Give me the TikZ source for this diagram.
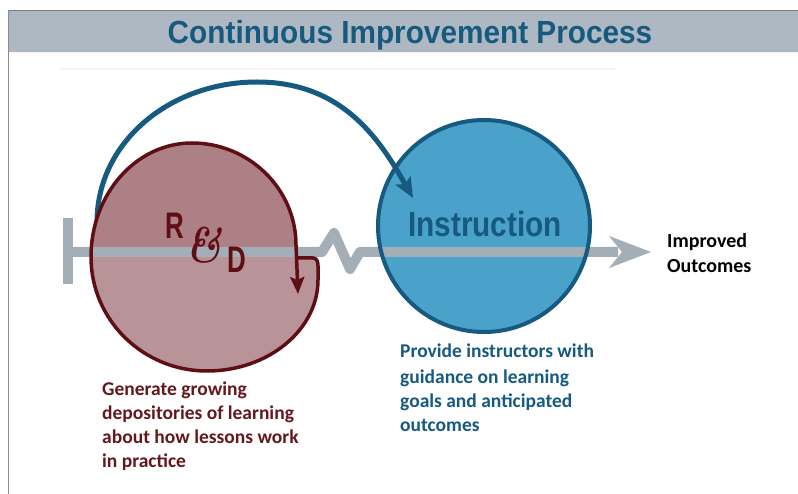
\documentclass[tikz,border=0pt]{standalone}
\usepackage{fontspec}
\newfontfamily\carlito{Carlito}
\newfontfamily\arial{Liberation Sans}
\usetikzlibrary{arrows.meta}
\definecolor{hdrfill}{RGB}{174,184,194}
\definecolor{hdrline}{RGB}{125,125,125}
\definecolor{framec}{RGB}{140,140,140}
\definecolor{faintc}{RGB}{243,243,243}
\definecolor{navy}{RGB}{22,90,128}
\definecolor{barc}{RGB}{164,174,183}
\definecolor{rdtop}{RGB}{173,128,133}
\definecolor{rdbot}{RGB}{184,148,152}
\definecolor{rdline}{RGB}{94,14,20}
\definecolor{rdtext}{RGB}{100,24,30}
\definecolor{bluefill}{RGB}{74,162,202}
\tikzset{
  graybar/.style={draw=barc, line width=10pt, line join=round},
  bluearc/.style={draw=navy, line width=5pt, -{Stealth[length=20pt,width=17pt,inset=4pt]}},
  redline/.style={draw=rdline, line width=3.5pt, line join=round, -{Stealth[length=17pt,width=14pt,inset=3pt]}},
  redtxt/.style={font=\carlito\bfseries\fontsize{19.5}{24}\selectfont, text=rdtext, anchor=base west, inner sep=0pt},
  bluetxt/.style={font=\carlito\bfseries\fontsize{19.5}{24}\selectfont, text=navy, anchor=base west, inner sep=0pt},
  blacktxt/.style={font=\carlito\bfseries\fontsize{20}{24}\selectfont, text=black, anchor=base west, inner sep=0pt},
  letter/.style={font=\arial\bfseries\fontsize{37}{37}\selectfont, text=rdline, anchor=base west, inner sep=0pt}
}
\newcommand\rdshapepath{(298,258) -- (313,258) .. controls (317,258) and (318,262) .. (318,266) -- (318,280) .. controls (318,330) and (268,371) .. (207,371) .. controls (143,371) and (91,320) .. (91,257) .. controls (91,194) and (136,143) .. (192,143) .. controls (249,143) and (296,189) .. (296,245)}
\begin{document}
\begin{tikzpicture}[x=1pt,y=-1pt]
\useasboundingbox[fill=white] (0,0) rectangle (798,494);
% header
\fill[hdrfill] (8,10) rectangle (798,52);
\draw[hdrline, line width=1.2pt] (8,10.6) -- (798,10.6);
\draw[white!90!gray, line width=1pt] (8,52.5) -- (798,52.5);
\draw[framec, line width=1.5pt] (8.5,10) -- (8.5,494);
\draw[faintc, line width=2pt] (60,69) -- (615,69);
\node[font=\arial\bfseries\fontsize{32}{32}\selectfont, text=navy, anchor=base, inner sep=0pt] (title) at (410,44) {\scalebox{0.93}[1]{Continuous Improvement Process}};
% instruction circle fill
\node[circle, fill=bluefill, minimum size=212pt, inner sep=0pt] (instr) at (484,226) {};
% coordinates of the arc
\coordinate (arcstart) at (97,222);
\coordinate (arctop) at (257,82);
\coordinate (arcend) at (413,198);
\draw[bluearc] (arcstart) .. controls (97,143) and (169,82) .. (arctop) .. controls (343,82) and (380,140) .. (arcend);
% R&D fill
\fill[rdbot] \rdshapepath -- (297,258) -- cycle;
\begin{scope}
\clip (0,0) rectangle (798,252);
\fill[rdtop] \rdshapepath -- (297,258) -- cycle;
\end{scope}
% gray axis
\coordinate (tstart) at (68,252);
\coordinate (ztop) at (334,233);
\coordinate (zbot) at (350,269);
\coordinate (tipend) at (651,252);
\draw[graybar] (68,218) -- (68,284);
\draw[graybar] (tstart) -- (322,252) -- (ztop) -- (zbot) -- (360,252) -- (618,252);
\fill[barc] (tipend) -- (609,236) -- (622,252) -- (609,268) -- cycle;
% outlines
\draw[redline] \rdshapepath -- (298,294);
\draw[navy, line width=4pt] (instr.center) circle[radius=106];
% texts
\node[font=\arial\bfseries\fontsize{35}{35}\selectfont, text=navy, anchor=base, inner sep=0pt] (instrlabel) at (485,237) {\scalebox{0.85}[1]{Instruction}};
\node[letter] (rl) at (165,239) {\scalebox{0.7}[1]{R}};
\node[letter] (dl) at (227,273) {\scalebox{0.7}[1]{D}};
\node[font=\rmfamily\bfseries\itshape\fontsize{50}{50}\selectfont, text=rdline, inner sep=0pt] (amp) at (204,245) {\scalebox{0.8}[1]{\&}};
\node[blacktxt] (imp1) at (667,248) {Improved};
\node[blacktxt] (imp2) at (667,273) {Outcomes};
\node[redtxt] (g1) at (102,395) {Generate growing};
\node[redtxt] (g2) at (102,419) {depositories of learning};
\node[redtxt] (g3) at (102,443) {about how lessons work};
\node[redtxt] (g4) at (102,467) {in practice};
\node[bluetxt] (p1) at (400,358) {Provide instructors with};
\node[bluetxt] (p2) at (400,383) {guidance on learning};
\node[bluetxt] (p3) at (400,407) {goals and anticipated};
\node[bluetxt] (p4) at (400,431) {outcomes};
\end{tikzpicture}
\end{document}
